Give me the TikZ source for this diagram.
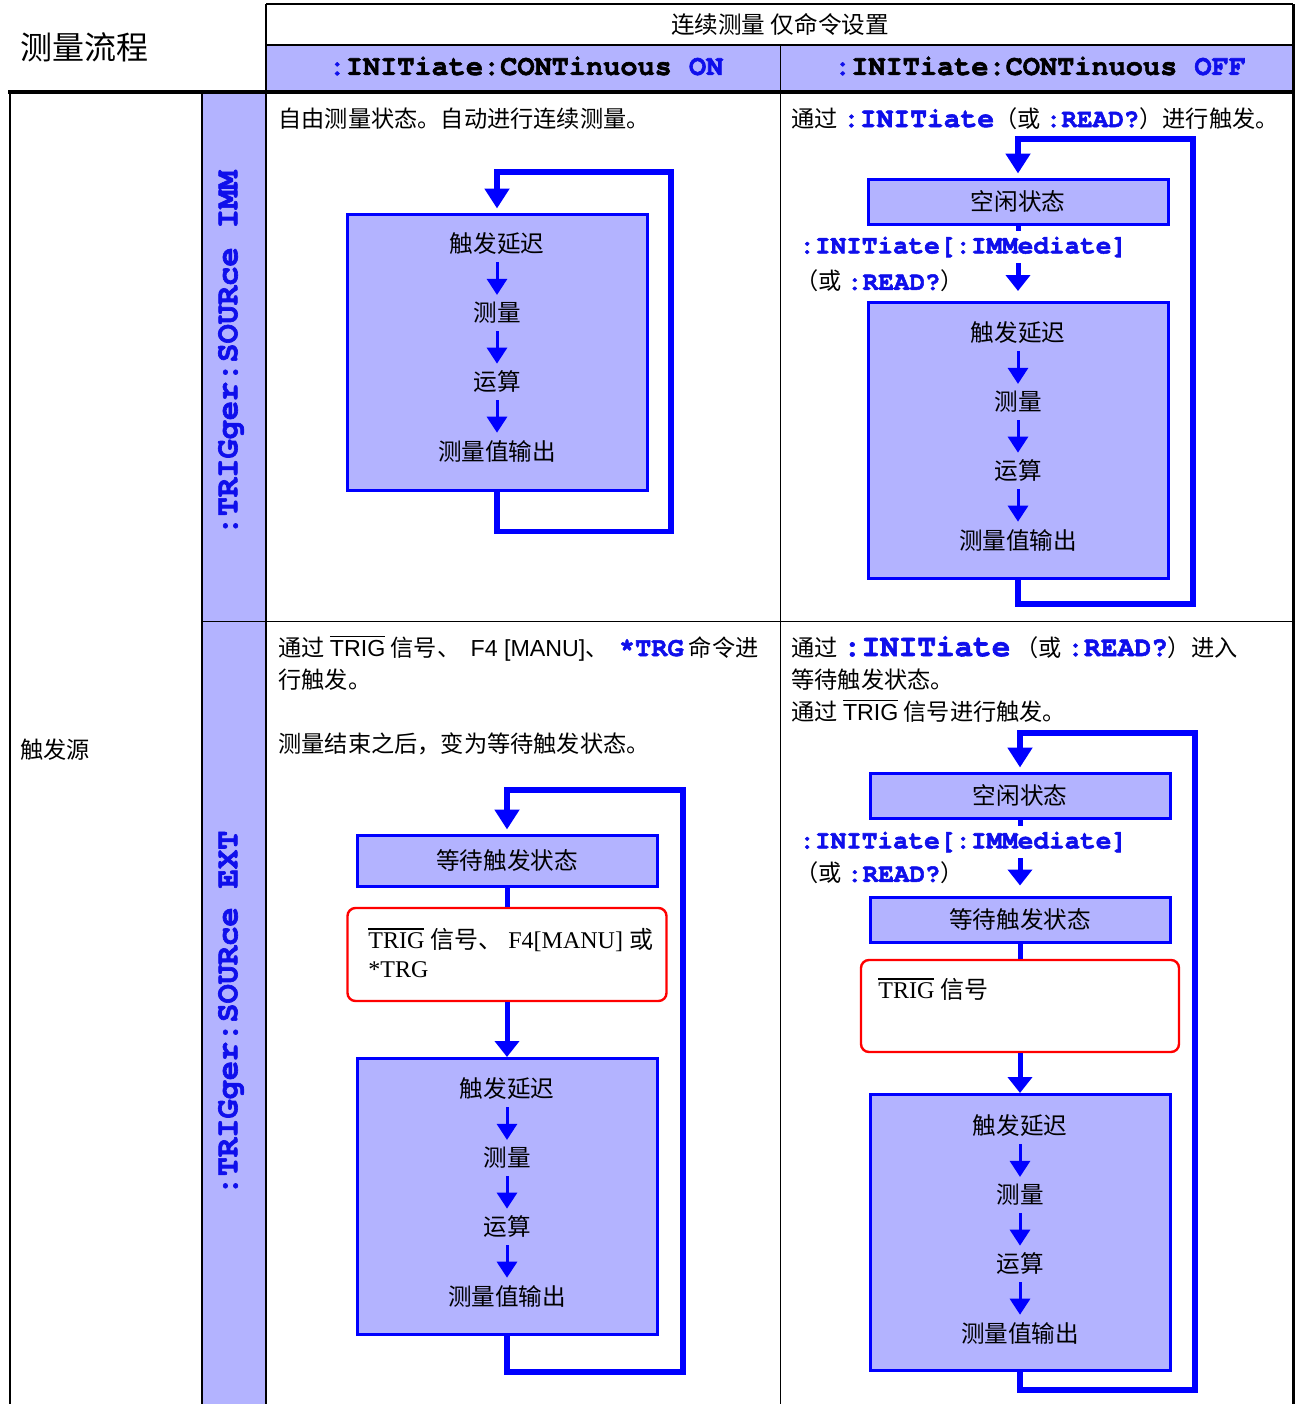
\documentclass[tikz,border=0pt]{standalone}
\usepackage{fontspec}
\setmainfont{Noto Sans CJK SC}
\newfontfamily\latf{Liberation Sans}
\newfontfamily\serf{Liberation Serif}
\newfontfamily\monof{TeX Gyre Cursor}[BoldFeatures={FakeBold=2}]
\usetikzlibrary{arrows.meta}

\definecolor{lav}{RGB}{179,179,255}
\definecolor{flowblue}{RGB}{0,0,255}
\definecolor{scpiblue}{RGB}{15,15,235}
\definecolor{trigred}{RGB}{255,0,0}

\newcommand\scpi[2][13pt]{{\monof\bfseries\fontsize{#1}{#1}\selectfont\color{scpiblue}#2}}
\newcommand\conthead[1]{{\monof\bfseries\fontsize{14.3pt}{15pt}\selectfont
  \textcolor{scpiblue}{:}INITiate:CONTinuous \textcolor{scpiblue}{#1}}}
\newcommand\trigbar[1]{\vbox{\hrule height 0.6pt\kern 1.3pt\hbox{#1}}}

\begin{document}
\begin{tikzpicture}[x=0.5pt,y=-0.5pt,line join=miter,
  txt/.style={font=\fontsize{11.6pt}{16pt}\selectfont,inner sep=0pt},
  stepname/.style={font=\fontsize{11.8pt}{14pt}\selectfont,inner sep=3.5pt},
  bigbox/.style={draw=flowblue,fill=lav,line width=1.5pt,minimum width=150pt,minimum height=138pt},
  statebox/.style={draw=flowblue,fill=lav,line width=1.5pt,minimum width=150pt,minimum height=22.5pt,
    font=\fontsize{11.8pt}{14pt}\selectfont},
  trigbox/.style={draw=trigred,fill=white,line width=1.2pt,rounded corners=4pt,
    minimum width=159.5pt,minimum height=46.5pt},
  trigtxt/.style={font=\serf\fontsize{12pt}{14pt}\selectfont,inner sep=0pt,anchor=base west},
  loopline/.style={draw=flowblue,line width=2.7pt,-{Triangle[width=12pt,length=10pt]},shorten >=2pt},
  linkline/.style={draw=flowblue,line width=2.5pt},
  linkarrow/.style={linkline,-{Triangle[width=12pt,length=8pt]}},
  steparrow/.style={draw=flowblue,line width=1.5pt,-{Triangle[width=10pt,length=8pt]}},
  scpilabel/.style={fill=white,inner sep=2pt,minimum height=16pt,anchor=west}]
  \useasboundingbox (0,0) rectangle (1300,1404);

  % table
  \fill[lav] (266,45) rectangle (1293,92);
  \fill[lav] (202,92) rectangle (266,1404);
  \draw[line width=1pt] (266,4) -- (1293,4);
  \draw[line width=0.8pt] (266,45) -- (1293,45);
  \draw[line width=0.5pt] (780,45) -- (780,1404);
  \draw[line width=1.6pt] (8,92) -- (1293,92);
  \draw[line width=1pt] (10,92) -- (10,1404);
  \draw[line width=1pt] (202,92) -- (202,1404);
  \draw[line width=1.2pt] (266,4) -- (266,1404);
  \draw[line width=1.5pt] (1293,4) -- (1293,1404);
  \draw[line width=0.5pt] (202,621) -- (1293,621);

  \node[txt,font=\fontsize{16pt}{18pt}\selectfont] (title) at (84,47) {测量流程};
  \node[txt,font=\fontsize{11.8pt}{14pt}\selectfont] (colhead) at (780,24) {连续测量 仅命令设置};
  \node[txt] (onhead) at (526,66) {\conthead{ON}};
  \node[txt] (offhead) at (1040,66) {\conthead{OFF}};
  \node[txt,anchor=west] (srclabel) at (20,750) {触发源};
  \node[rotate=90,inner sep=0pt] (srcimm) at (231,353) {\scpi[16pt]{:TRIGger:SOURce IMM}};
  \node[rotate=90,inner sep=0pt] (srcext) at (231,1013) {\scpi[16pt]{:TRIGger:SOURce EXT}};

  % descriptions
  \node[txt,anchor=base west] (descA) at (278,127) {自由测量状态。自动进行连续测量。};
  \node[txt,anchor=base west] (descB) at (791,127)
    {通过 \scpi[14pt]{:INITiate}（或 \scpi{:READ?}）进行触发。};
  \node[txt,anchor=base west] (descC1) at (278,656)
    {通过 \trigbar{\latf TRIG} 信号、 \ {\latf F4 [MANU]}、 \ \scpi[13.5pt]{*TRG} 命令进};
  \node[txt,anchor=base west] (descC2) at (278,688) {行触发。};
  \node[txt,anchor=base west] (descC3) at (278,752) {测量结束之后，变为等待触发状态。};
  \node[txt,anchor=base west] (descD1) at (791,656)
    {通过 \scpi[15.5pt]{:INITiate} （或 \scpi[14pt]{:READ?}）进入};
  \node[txt,anchor=base west] (descD2) at (791,688) {等待触发状态。};
  \node[txt,anchor=base west] (descD3) at (791,720) {通过 \trigbar{\latf TRIG} 信号进行触发。};

  % flow boxes
  \node[bigbox] (bigA) at (497,352) {};
  \node[statebox] (idleB) at (1018,201.5) {空闲状态};
  \node[bigbox] (bigB) at (1018,440.5) {};
  \node[statebox,minimum height=25.5pt] (waitC) at (507,860.5) {等待触发状态};
  \node[trigbox] (trigC) at (507,954.5) {};
  \node[bigbox] (bigC) at (507,1196.5) {};
  \node[statebox] (idleD) at (1020,795.5) {空闲状态};
  \node[statebox] (waitD) at (1020,919.5) {等待触发状态};
  \node[trigbox,minimum width=159pt,minimum height=46pt] (trigD) at (1020,1006) {};
  \node[bigbox] (bigD) at (1020,1232.5) {};

  \foreach \p/\x/\y in {A/497/244,B/1018/333,C/507/1089,D/1020/1126}{
    \node[stepname] (delay\p) at (\x,\y) {触发延迟};
    \node[stepname] (meas\p) at (\x,\y+69) {测量};
    \node[stepname] (calc\p) at (\x,\y+138) {运算};
    \node[stepname] (out\p) at (\x,\y+207) {测量值输出};
    \draw[steparrow] (delay\p) -- (meas\p);
    \draw[steparrow] (meas\p) -- (calc\p);
    \draw[steparrow] (calc\p) -- (out\p);
  }

  % links
  \draw[linkarrow,shorten >=5pt] (idleB) -- (bigB);
  \node[scpilabel] (initB) at (795,247) {\scpi{:INITiate[:IMMediate]}};
  \node[txt,anchor=west] (readB) at (795,281) {（或 \scpi{:READ?}）};

  \draw[linkline] (waitC) -- (trigC);
  \draw[linkarrow] (trigC) -- (bigC);
  \node[trigtxt] (trigtxtC1) at (368,948) {\trigbar{TRIG} {\rmfamily 信号、} F4[MANU] {\rmfamily 或}};
  \node[trigtxt] (trigtxtC2) at (368,977) {*TRG};

  \draw[linkarrow,shorten >=5pt] (idleD) -- (waitD);
  \node[scpilabel] (initD) at (795,842) {\scpi{:INITiate[:IMMediate]}};
  \node[txt,anchor=west] (readD) at (795,873) {（或 \scpi{:READ?}）};
  \draw[linkline] (waitD) -- (trigD);
  \draw[linkarrow] (trigD) -- (bigD);
  \node[trigtxt] (trigtxtD) at (878,998) {\trigbar{TRIG} {\rmfamily 信号}};

  % loops
  \coordinate (loopA) at (671,172);
  \coordinate (loopB) at (1193,139);
  \coordinate (loopC) at (683,790);
  \coordinate (loopD) at (1195,733);
  \draw[loopline] (bigA.south) -- ++(0,40) -| (loopA) -| (bigA.north);
  \draw[loopline] (bigB.south) -- ++(0,24) -| (loopB) -| (idleB.north);
  \draw[loopline] (bigC.south) -- ++(0,36) -| (loopC) -| (waitC.north);
  \draw[loopline] (bigD.south) -- ++(0,18) -| (loopD) -| (idleD.north);
\end{tikzpicture}
\end{document}
